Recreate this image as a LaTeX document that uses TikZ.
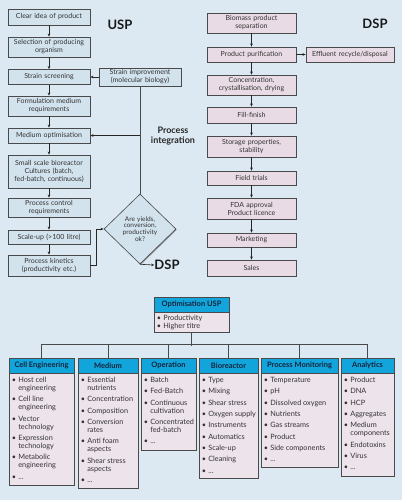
\documentclass[tikz,border=0pt]{standalone}
\usepackage{fontspec}
\setmainfont{Lato}
\usetikzlibrary{arrows.meta,shadows,shapes.geometric}
\definecolor{bgc}{HTML}{DCE9F2}
\definecolor{uspc}{HTML}{D2E3EE}
\definecolor{dspc}{HTML}{E8DBE5}
\definecolor{bodyc}{HTML}{EDE3EA}
\definecolor{cyanc}{HTML}{12A5DC}
\definecolor{edgec}{HTML}{4A4A4A}
\definecolor{txtc}{HTML}{333333}
\definecolor{headc}{HTML}{15233A}
\newcommand\bu{\textbullet}
\begin{document}
\begin{tikzpicture}[x=1pt,y=-1pt,
  shad/.style={drop shadow={shadow xshift=0.8pt,shadow yshift=-0.8pt,fill=black!60,opacity=0.7}},
  box/.style={draw=edgec,line width=0.6pt,inner sep=0pt,align=center,text=txtc,font=\fontsize{7}{8}\selectfont,shad},
  ubox/.style={box,fill=uspc,minimum width=82pt,text width=78pt},
  dbox/.style={box,fill=dspc,minimum width=89pt,text width=85pt},
  arr/.style={-{Stealth[length=3.2pt,width=2.6pt]},line width=0.6pt,draw=black!85},
  link/.style={line width=0.7pt,draw=edgec},
  head/.style={draw=edgec,line width=0.6pt,fill=cyanc,inner sep=0pt,minimum height=15pt,text=headc,font=\fontsize{7.5}{8}\selectfont\bfseries,shad},
  body/.style={draw=edgec,line width=0.6pt,fill=bodyc,inner sep=0pt,anchor=north,shad},
  btext/.style={anchor=north west,inner sep=0pt,align=left,text=txtc,font=\fontsize{7.3}{8}\selectfont},
  title/.style={font=\fontsize{13}{13}\selectfont\bfseries,text=black!90,inner sep=0pt}
]
\fill[bgc] (0,0) rectangle (402,500);
\useasboundingbox (0,0) rectangle (402,500);

% ---------- USP column ----------
\node[ubox,minimum height=16pt] (u1) at (49,17) {Clear idea of product};
\node[ubox,minimum height=20pt] (u2) at (49,47) {Selection of producing\\organism};
\node[ubox,minimum height=15pt] (u3) at (49,77) {Strain screening};
\node[ubox,minimum height=20pt] (u4) at (49,106) {Formulation medium\\requirements};
\node[ubox,minimum height=15pt] (u5) at (49,135.5) {Medium optimisation};
\node[ubox,minimum height=33pt] (u6) at (49,171.5) {Small scale bioreactor\\Cultures (batch,\\fed-batch, continuous)};
\node[ubox,minimum height=19pt] (u7) at (49,207.5) {Process control\\requirements};
\node[ubox,minimum height=14pt] (u8) at (49,237) {Scale-up (>100 litre)};
\node[ubox,minimum height=21pt] (u9) at (49,265.5) {Process kinetics\\(productivity etc.)};

\node[ubox,minimum height=18pt] (si) at (140,77) {Strain improvement\\(molecular biology)};
\node[box,fill=uspc,shape=diamond,minimum width=72pt,minimum height=70pt,text width=44pt,font=\fontsize{6.5}{6.9}\selectfont] (dia) at (140,229) {Are yields,\\conversion,\\productivity\\ok?};

\node[title] (uspt) at (120,24.5) {USP};
\node[title] (dsp2) at (167,265) {DSP};
\node[inner sep=0pt,align=center,font=\fontsize{9}{10.5}\selectfont\bfseries,text=black!85] (pint) at (173,136) {Process\\integration};

\foreach \a/\b in {u1/u2,u2/u3,u3/u4,u4/u5,u5/u6,u6/u7,u7/u8,u8/u9}
  \draw[arr] (\a) -- (\b);
\draw[arr] (si.west) -- (u3.east);
\draw[link] (si.south) -- (dia.north);
\draw[arr] (si.south |- u5.east) -- (u5.east);
\draw[arr] (u9.east) -- ++(5.5,0) |- (dia.west);
\draw[arr] (dia.south) -- (dsp2.west);

% ---------- DSP column ----------
\node[dbox,minimum height=20pt] (d1) at (251.5,23) {Biomass product\\separation};
\node[dbox,minimum height=15pt] (d2) at (251.5,54.5) {Product purification};
\node[dbox,minimum height=15pt,minimum width=88pt] (eff) at (350,54.5) {Effluent recycle/disposal};
\node[dbox,minimum height=20pt] (d3) at (251.5,85) {Concentration,\\crystallisation, drying};
\node[dbox,minimum height=16pt] (d4) at (251.5,115) {Fill-finish};
\node[dbox,minimum height=21pt] (d5) at (251.5,146.5) {Storage properties,\\stability};
\node[dbox,minimum height=14pt] (d6) at (251.5,178) {Field trials};
\node[dbox,minimum height=21pt] (d7) at (251.5,208.5) {FDA approval\\Product licence};
\node[dbox,minimum height=14pt] (d8) at (251.5,240) {Marketing};
\node[dbox,minimum height=16pt] (d9) at (251.5,268) {Sales};
\node[title] (dspt) at (375,24) {DSP};

\foreach \a/\b in {d1/d2,d2/d3,d3/d4,d4/d5,d5/d6,d6/d7,d7/d8,d8/d9}
  \draw[arr] (\a) -- (\b);
\draw[arr] (d2.east) -- (eff.west);

% ---------- Optimisation USP ----------
\node[head,minimum width=75pt] (oh) at (191.5,304.5) {Optimisation USP};
\node[body,minimum width=75pt,minimum height=20pt] (ob) at (oh.south) {};
\node[btext] (obt) at ([shift={(3,2.5)}]ob.north west) {\begin{tabular}{@{}l@{\hspace{2.2pt}}l@{}}
\bu & Productivity\\ \bu & Higher titre\end{tabular}};

% ---------- categories ----------
\node[head,minimum width=65pt] (ceh) at (41.5,365.5) {Cell Engineering};
\node[head,minimum width=60pt] (meh) at (108,365.5) {Medium};
\node[head,minimum width=55pt] (oph) at (168.5,365.5) {Operation};
\node[head,minimum width=59pt] (bih) at (228.5,365.5) {Bioreactor};
\node[head,minimum width=77pt] (pmh) at (299.5,365.5) {Process Monitoring};
\node[head,minimum width=53pt] (anh) at (367.5,365.5) {Analytics};

\node[body,minimum width=65pt,minimum height=112pt] (ceb) at (ceh.south) {};
\node[body,minimum width=60pt,minimum height=115pt] (meb) at (meh.south) {};
\node[body,minimum width=55pt,minimum height=77pt] (opb) at (oph.south) {};
\node[body,minimum width=59pt,minimum height=105pt] (bib) at (bih.south) {};
\node[body,minimum width=77pt,minimum height=94pt] (pmb) at (pmh.south) {};
\node[body,minimum width=53pt,minimum height=103pt] (anb) at (anh.south) {};

\node[btext] (cet) at ([shift={(3,3.5)}]ceb.north west) {\begin{tabular}{@{}l@{\hspace{2.2pt}}l@{}}
\bu & Host cell\\ & engineering\\[3.3pt]
\bu & Cell line\\ & engineering\\[3.3pt]
\bu & Vector\\ & technology\\[3.3pt]
\bu & Expression\\ & technology\\[3.3pt]
\bu & Metabolic\\ & engineering\\[3.3pt]
\bu & ...\end{tabular}};

\node[btext] (met) at ([shift={(3,3.5)}]meb.north west) {\begin{tabular}{@{}l@{\hspace{2.2pt}}l@{}}
\bu & Essential\\ & nutrients\\[3.3pt]
\bu & Concentration\\[3.3pt]
\bu & Composition\\[3.3pt]
\bu & Conversion\\ & rates\\[3.3pt]
\bu & Anti foam\\ & aspects\\[3.3pt]
\bu & Shear stress\\ & aspects\\[3.3pt]
\bu & ...\end{tabular}};

\node[btext] (opt) at ([shift={(3,3.5)}]opb.north west) {\begin{tabular}{@{}l@{\hspace{2.2pt}}l@{}}
\bu & Batch\\[3.3pt]
\bu & Fed-Batch\\[3.3pt]
\bu & Continuous\\ & cultivation\\[3.3pt]
\bu & Concentrated\\ & fed-batch\\[3.3pt]
\bu & ...\end{tabular}};

\node[btext] (bit) at ([shift={(3,3.5)}]bib.north west) {\begin{tabular}{@{}l@{\hspace{2.2pt}}l@{}}
\bu & Type\\[3.3pt]
\bu & Mixing\\[3.3pt]
\bu & Shear stress\\[3.3pt]
\bu & Oxygen supply\\[3.3pt]
\bu & Instruments\\[3.3pt]
\bu & Automatics\\[3.3pt]
\bu & Scale-up\\[3.3pt]
\bu & Cleaning\\[3.3pt]
\bu & ...\end{tabular}};

\node[btext] (pmt) at ([shift={(3,3.5)}]pmb.north west) {\begin{tabular}{@{}l@{\hspace{2.2pt}}l@{}}
\bu & Temperature\\[3.3pt]
\bu & pH\\[3.3pt]
\bu & Dissolved oxygen\\[3.3pt]
\bu & Nutrients\\[3.3pt]
\bu & Gas streams\\[3.3pt]
\bu & Product\\[3.3pt]
\bu & Side components\\[3.3pt]
\bu & ...\end{tabular}};

\node[btext] (ant) at ([shift={(3,3.5)}]anb.north west) {\begin{tabular}{@{}l@{\hspace{2.2pt}}l@{}}
\bu & Product\\[3.3pt]
\bu & DNA\\[3.3pt]
\bu & HCP\\[3.3pt]
\bu & Aggregates\\[3.3pt]
\bu & Medium\\ & components\\[3.3pt]
\bu & Endotoxins\\[3.3pt]
\bu & Virus\\[3.3pt]
\bu & ...\end{tabular}};

% tree connectors
\draw[link] (ceh.north) -- ++(0,-13) -| (anh.north);
\draw[link] (ob.south) -- ++(0,13);
\foreach \h in {meh,oph,bih,pmh}
  \draw[link] (\h.north) -- ++(0,-13);
\end{tikzpicture}
\end{document}
